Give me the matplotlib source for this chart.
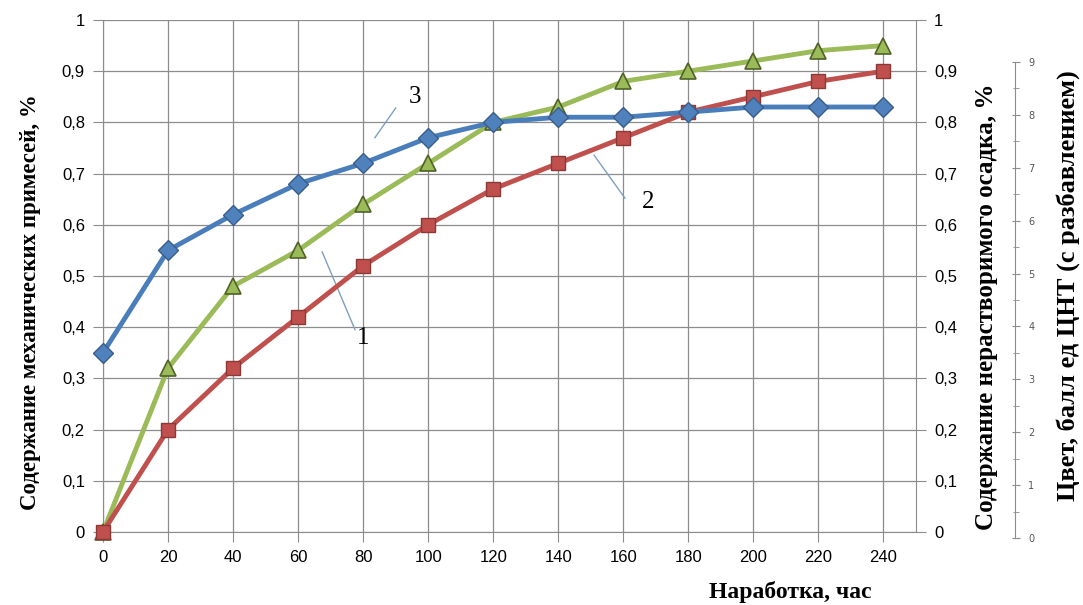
import numpy as np
import matplotlib.pyplot as plt

# наработка, час
hours = [0, 20, 40, 60, 80, 100, 120, 140, 160, 180, 200, 220, 240]
# кривая 3 - синяя (ромбы)
curve3 = [0.35, 0.55, 0.62, 0.68, 0.72, 0.77, 0.80, 0.81, 0.81, 0.82, 0.83, 0.83, 0.83]
# кривая 2 - красная (квадраты)
curve2 = [0.0, 0.20, 0.32, 0.42, 0.52, 0.60, 0.67, 0.72, 0.77, 0.82, 0.85, 0.88, 0.90]
# кривая 1 - зелёная (треугольники)
curve1 = [0.0, 0.32, 0.48, 0.55, 0.64, 0.72, 0.80, 0.83, 0.88, 0.90, 0.92, 0.94, 0.95]

y_ticks = [0, 0.1, 0.2, 0.3, 0.4, 0.5, 0.6, 0.7, 0.8, 0.9, 1]
y_labels = ['0', '0,1', '0,2', '0,3', '0,4', '0,5', '0,6', '0,7', '0,8', '0,9', '1']
color_ticks = [0, 1, 2, 3, 4, 5, 6, 7, 8, 9]

serif = ['Liberation Serif', 'DejaVu Serif']
sans = ['Liberation Sans', 'DejaVu Sans']

fig = plt.figure(figsize=(10.83, 6.05), dpi=100)
ax = fig.add_axes([0.0951, 0.1207, 0.7507, 0.8463])

ax.set_xlim(0, 250)
ax.set_ylim(0, 1)
ax.set_xticks(hours)
ax.set_xticklabels([str(h) for h in hours], fontsize=12, family=sans)
ax.set_yticks(y_ticks)
ax.set_yticklabels(y_labels, fontsize=12, family=sans)
ax.grid(True, color='#8c8c8c', linewidth=0.9)
ax.set_axisbelow(True)
ax.spines['top'].set_visible(False)
for s in ['left', 'right', 'bottom']:
    ax.spines[s].set_color('#8c8c8c')
ax.tick_params(axis='both', direction='out', length=7, color='#8c8c8c', pad=6)

ax.plot(hours, curve1, color='#9BBB59', lw=3.5, marker='^', ms=12,
        mfc='#9BBB59', mec='#4F6228', mew=1.2, zorder=3, clip_on=False)
ax.plot(hours, curve2, color='#C0504D', lw=3.5, marker='s', ms=10,
        mfc='#C0504D', mec='#8C3836', mew=1.0, zorder=4, clip_on=False)
ax.plot(hours, curve3, color='#4A7EBB', lw=3.5, marker='D', ms=10,
        mfc='#4F81BD', mec='#385D8A', mew=1.0, zorder=5, clip_on=False)

# выноски с номерами кривых
ax.plot([83.6, 90], [0.77, 0.828], color='#7f9fbf', lw=1)
ax.text(96, 0.85, '3', fontsize=18, family=serif, ha='center', va='center')
ax.plot([151, 160.5], [0.736, 0.652], color='#7f9fbf', lw=1)
ax.text(167.6, 0.645, '2', fontsize=18, family=serif, ha='center', va='center')
ax.plot([67.4, 77.5], [0.547, 0.395], color='#7f9fbf', lw=1)
ax.text(80, 0.379, '1', fontsize=18, family=serif, ha='center', va='center')

ax.set_ylabel('Содержание механических примесей, %', fontsize=16.5,
              fontweight='bold', family=serif)
ax.yaxis.set_label_coords(-0.076, 0.449)
fig.text(0.73, 0.012, 'Наработка, час', fontsize=17, fontweight='bold',
         family=serif, ha='center')

# правая ось 0-1
axr = ax.twinx()
axr.set_ylim(0, 1)
axr.set_yticks(y_ticks)
axr.set_yticklabels(y_labels, fontsize=12, family=sans)
axr.tick_params(axis='y', direction='out', length=7, color='#8c8c8c', pad=6)
for s in axr.spines.values():
    s.set_visible(False)
axr.set_ylabel('Содержание нерастворимого осадка, %', fontsize=18,
               fontweight='bold', family=serif)
axr.yaxis.set_label_coords(1.072, 0.44)

# третья ось - цвет
ax3 = fig.add_axes([0.937, 0.1107, 0.001, 0.787])
ax3.set_ylim(0, 9)
ax3.set_xticks([])
for s in ['top', 'right', 'bottom']:
    ax3.spines[s].set_visible(False)
ax3.spines['left'].set_color('#8c8c8c')
ax3.set_yticks(color_ticks)
ax3.set_yticks(np.arange(0.5, 9, 1), minor=True)
ax3.yaxis.tick_right()
ax3.tick_params(axis='y', which='major', direction='inout', length=6,
                color='#8c8c8c', labelsize=7, labelcolor='#555555', pad=6)
ax3.tick_params(axis='y', which='minor', direction='inout', length=4,
                color='#8c8c8c')
fig.text(0.986, 0.1107 + 0.787 * 0.53, 'Цвет, балл ед ЦНТ (с разбавлением)',
         fontsize=19, fontweight='bold', family=serif, rotation=90,
         ha='center', va='center')

fig.savefig('out.png', dpi=100)
